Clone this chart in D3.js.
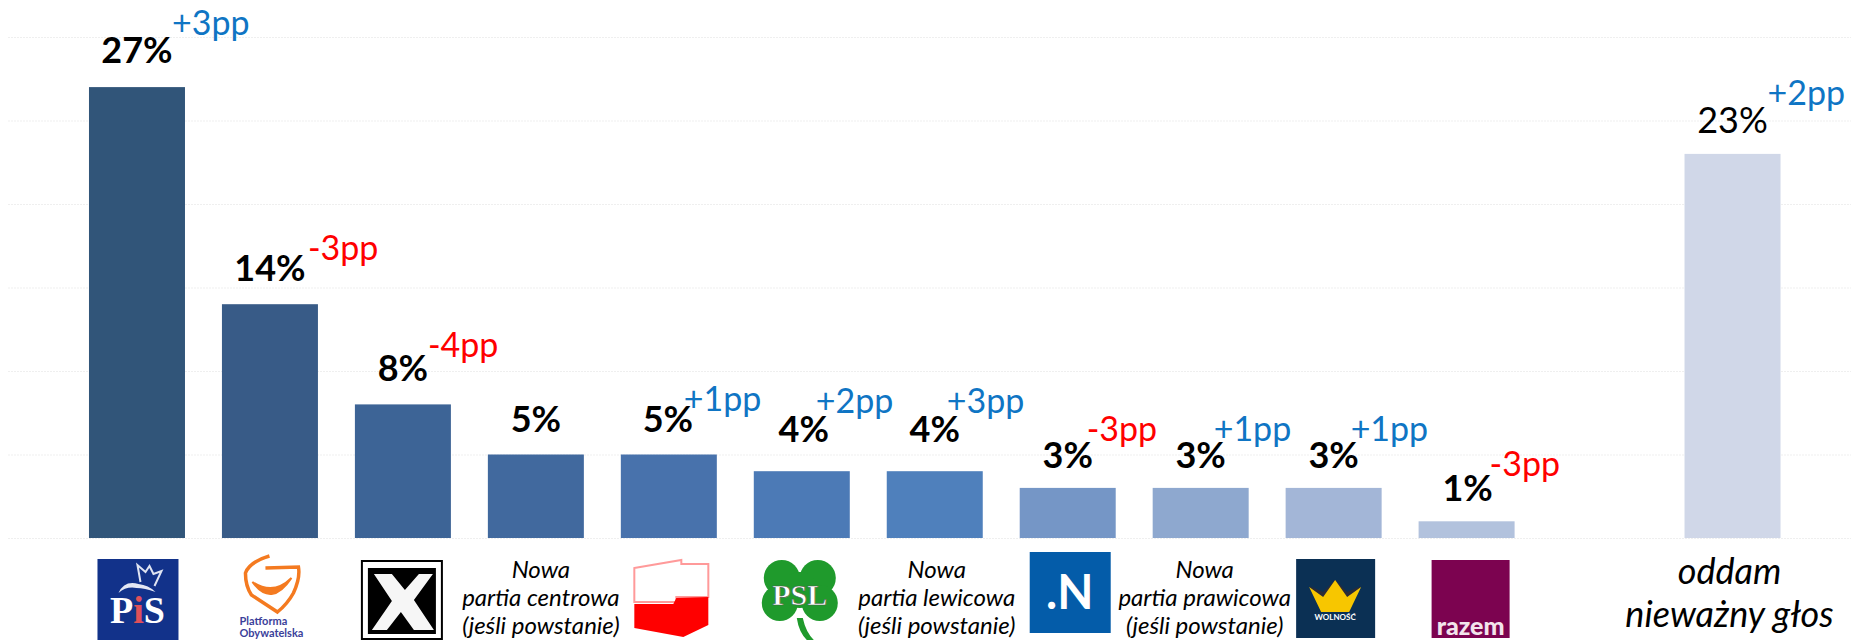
<!DOCTYPE html>
<html>
<head>
<meta charset="utf-8">
<script src="https://cdn.jsdelivr.net/npm/d3@7"></script>
<style>
html, body { margin: 0; background: #fff; }
svg { font-family: Lato, sans-serif; }
</style>
</head>
<body>
<svg id="chart" width="1851" height="640"></svg>
<script>
// one empty slot before the last bar
var categories = ['PiS', 'PO', 'Kukiz', 'centrowa', 'SLD', 'PSL', 'lewicowa', 'N', 'prawicowa', 'Wolnosc', 'Razem', '', 'niewazny'];
var parties = categories.filter(function (c) { return c !== ''; });
var values = [27, 14, 8, 5, 5, 4, 4, 3, 3, 3, 1, 23];
var changes = ['+3pp', '-3pp', '-4pp', '', '+1pp', '+2pp', '+3pp', '-3pp', '+1pp', '+1pp', '-3pp', '+2pp'];
var barColors = ['#315579', '#385b87', '#3d6496', '#41699e', '#4872ac', '#4c7ab6', '#4f80bc', '#7596c6', '#8ea8cf', '#a3b6d7', '#b2c2dd', '#d0d7e8'];
var yTicks = [0, 5, 10, 15, 20, 25, 30];

// small hand nudges for the labels, the source placed them by hand
var valueNudgeX = [0, 0, 0, 0, -1, 2, 0, 0, 0, 0, 1, 0];
var valueNudgeY = [-1, 0, 0, 0, 0, -6, -6, 3, 3, 3, 3, 2];
var changeNudgeX = [35, 38, 25, 0, 15, 14, 12, 19, 13, 17, 23, 35];
var changeNudgeY = [-28, -21, -24, 0, -21, -29, -29, -27, -27, -27, -25, -28];

var svg = d3.select('#chart');
var width = 1851, height = 640;

var x = d3.scaleBand().domain(categories).range([70.5, 1799]).paddingInner(0.278).paddingOuter(0.139);
var y = d3.scaleLinear().domain([0, 30]).range([538, 37]);

//Gridlines
var gridG = svg.append('g').attr('transform', 'translate(8,0)')
    .call(d3.axisLeft(y).tickValues(yTicks).tickSize(-(width - 8)).tickFormat(''));
gridG.select('.domain').remove();
gridG.selectAll('line').attr('stroke', '#efefef').attr('stroke-width', 1).attr('stroke-dasharray', '2,1');

//Bars
svg.append('g').selectAll('rect').data(values).enter().append('rect')
    .attr('x', function (d, i) { return x(parties[i]); })
    .attr('y', function (d) { return y(d); })
    .attr('width', x.bandwidth())
    .attr('height', function (d) { return y(0) - y(d); })
    .attr('fill', function (d, i) { return barColors[i]; });

function cx(name) { return x(name) + x.bandwidth() / 2; }

//Value labels
svg.append('g').selectAll('text').data(values).enter().append('text')
    .attr('x', function (d, i) { return cx(parties[i]) + valueNudgeX[i]; })
    .attr('y', function (d, i) { return y(d) - 23 + valueNudgeY[i]; })
    .attr('text-anchor', 'middle')
    .attr('font-size', 36)
    .attr('font-weight', function (d, i) { return i === 11 ? 400 : 700; })
    .attr('fill', '#000')
    .text(function (d) { return d + '%'; });

//Change labels
svg.append('g').selectAll('text').data(changes).enter().append('text')
    .attr('x', function (d, i) { return cx(parties[i]) + changeNudgeX[i]; })
    .attr('y', function (d, i) { return y(values[i]) - 23 + valueNudgeY[i] + changeNudgeY[i]; })
    .attr('font-size', 34)
    .attr('fill', function (d) { return d.charAt(0) === '+' ? '#0f75c4' : '#ff0000'; })
    .text(function (d) { return d; });

//Italic captions under the bars
var newParty = [
    { name: 'centrowa', dx: 5, lines: ['Nowa', 'partia centrowa', '(jeśli powstanie)'] },
    { name: 'lewicowa', dx: 2, lines: ['Nowa', 'partia lewicowa', '(jeśli powstanie)'] },
    { name: 'prawicowa', dx: 4, lines: ['Nowa', 'partia prawicowa', '(jeśli powstanie)'] }
];
newParty.forEach(function (p) {
    var t = svg.append('text').attr('text-anchor', 'middle').attr('font-style', 'italic').attr('font-size', 24);
    p.lines.forEach(function (line, i) {
        t.append('tspan').attr('x', cx(p.name) + p.dx).attr('y', 578 + i * 28).text(line);
    });
});
var invalid = svg.append('text').attr('text-anchor', 'middle').attr('font-style', 'italic').attr('font-size', 36);
['oddam', 'nieważny głos'].forEach(function (line, i) {
    invalid.append('tspan').attr('x', cx('niewazny') - 3).attr('y', 584 + i * 43).text(line);
});

//Logos, each drawn around the middle of its bar
function logo(name, dx) {
    return svg.append('g').attr('transform', 'translate(' + (cx(name) + dx) + ',0)');
}

var pis = logo('PiS', 1.5);
pis.append('rect').attr('x', -41).attr('y', 559).attr('width', 81).attr('height', 81).attr('fill', '#12328a');
pis.append('path').attr('d', 'M-20,593 Q-14,580 0,584 Q10,585 17,592 Q6,588 -2,588 Q-12,586 -20,593 Z').attr('fill', '#e4e8f4');
pis.append('path').attr('d', 'M2,582 L-1,565 L7,572 L11,566 L15,574 L23,571 L16,586')
    .attr('fill', 'none').attr('stroke', '#dfe4f2').attr('stroke-width', 2);
var pisText = pis.append('text').attr('x', -1).attr('y', 623).attr('text-anchor', 'middle')
    .style('font-family', '"Liberation Serif", serif')
    .attr('font-size', 38).attr('font-weight', 700).attr('fill', '#fff');
pisText.append('tspan').text('P');
pisText.append('tspan').attr('fill', '#e0505a').text('i');
pisText.append('tspan').text('S');

var po = logo('PO', 3.5);
po.append('path').attr('d', 'M-4,556 Q-24,562 -28,573 Q-28,586 -22,595 L4,612 Q14,604 20,593 Q27,578 25,567 L-8,568')
    .attr('fill', 'none').attr('stroke', '#f47a20').attr('stroke-width', 3.5);
po.append('path').attr('d', 'M-21,582 Q-2,608 18,578 Q0,596 -21,582 Z').attr('fill', '#f47a20').attr('stroke', '#f47a20').attr('stroke-width', 2);
var poText = po.append('text').attr('font-size', 11).attr('font-weight', 700).attr('fill', '#3b3f9a');
poText.append('tspan').attr('x', -34).attr('y', 625).text('Platforma');
poText.append('tspan').attr('x', -34).attr('y', 637).text('Obywatelska');

var kukiz = logo('Kukiz', -1);
kukiz.append('rect').attr('x', -40).attr('y', 561).attr('width', 80).attr('height', 78).attr('fill', '#fff').attr('stroke', '#000').attr('stroke-width', 2);
kukiz.append('rect').attr('x', -34).attr('y', 568).attr('width', 68).attr('height', 66).attr('fill', '#000');
kukiz.append('path').attr('d', 'M-28,574 L-10,574 L3,590 L17,574 L31,574 L12,600 L32,630 L12,630 L-1,612 L-15,630 L-30,630 L-10,601 Z').attr('fill', '#f6f6f6');

var sld = logo('SLD', 2.5);
sld.append('path').attr('d', 'M-37,568 L10,560 L10,564 L37,564 L37,597 L5,597 L5,602 L-37,602 Z')
    .attr('fill', 'none').attr('stroke', '#ff9a9a').attr('stroke-width', 2);
sld.append('path').attr('d', 'M-37,604 L2,604 L5,598 L37,597 L37,625 L12,637 L-37,628 Z').attr('fill', '#ff0000');

var psl = logo('PSL', -2);
[[-18, 578], [18, 578], [-20, 603], [20, 603], [0, 590]].forEach(function (c) {
    psl.append('circle').attr('cx', c[0]).attr('cy', c[1]).attr('r', 18).attr('fill', '#1f9a2c');
});
psl.append('path').attr('d', 'M-3,618 L3,618 Q6,632 14,640 L7,640 Q-1,632 -3,618 Z').attr('fill', '#1f9a2c');
psl.append('text').attr('x', 0).attr('y', 605).attr('text-anchor', 'middle')
    .style('font-family', '"Liberation Serif", serif')
    .attr('font-size', 30).attr('font-weight', 700).attr('fill', '#fff').attr('stroke', '#4a5a4a').attr('stroke-width', 0.6).text('PSL');

var nowo = logo('N', 2);
nowo.append('rect').attr('x', -40).attr('y', 552).attr('width', 81).attr('height', 81).attr('fill', '#045ca9');
nowo.append('text').attr('x', 0).attr('y', 609).attr('text-anchor', 'middle').attr('font-size', 47).attr('font-weight', 700).attr('fill', '#fff').text('.N');

var wolnosc = logo('Wolnosc', 1.5);
wolnosc.append('rect').attr('x', -39).attr('y', 559).attr('width', 79).attr('height', 79).attr('fill', '#0b3054');
wolnosc.append('path').attr('d', 'M-26,586 L-12,592 L0,580 L12,592 L26,586 L14,600 L-14,600 Z').attr('fill', '#2b2b38');
wolnosc.append('path').attr('d', 'M-26,587 L-12,597 L0,580 L12,597 L26,587 L14,612 L-14,612 Z').attr('fill', '#f7c600');
wolnosc.append('text').attr('x', 0).attr('y', 620).attr('text-anchor', 'middle').attr('font-size', 8).attr('font-weight', 700).attr('fill', '#fff').text('WOLNOŚĆ');

var razem = logo('Razem', 4);
razem.append('rect').attr('x', -39).attr('y', 560).attr('width', 78).attr('height', 78).attr('fill', '#7c0350');
razem.append('text').attr('x', 0).attr('y', 635).attr('text-anchor', 'middle').attr('font-size', 25).attr('font-weight', 900).attr('fill', '#f3e4ec').text('razem');
</script>
</body>
</html>
